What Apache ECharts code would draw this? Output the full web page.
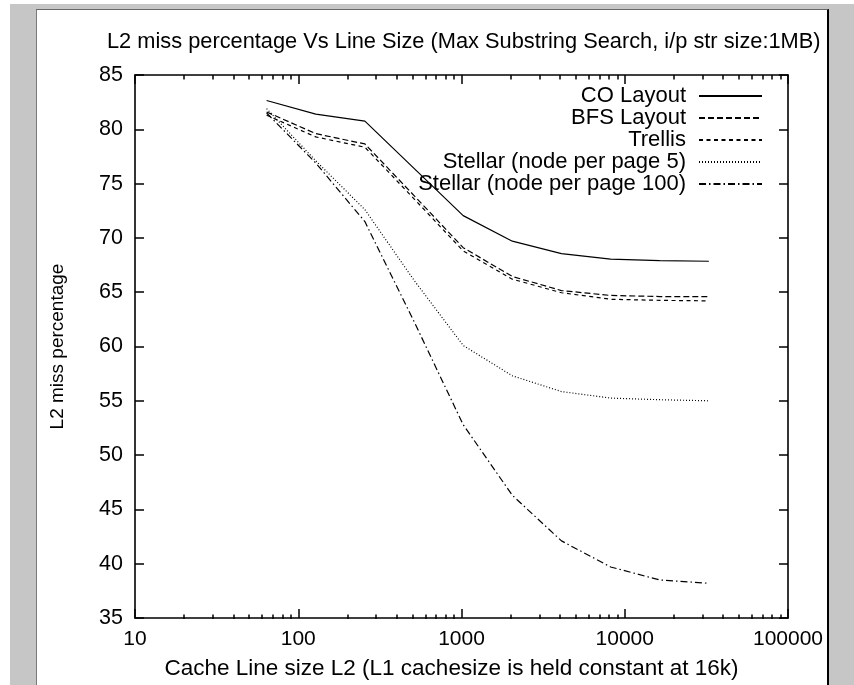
<!DOCTYPE html>
<html>
<head>
<meta charset="utf-8">
<script src="https://cdn.jsdelivr.net/npm/echarts@6/dist/echarts.min.js"></script>
<style>
  html, body { margin: 0; padding: 0; background: #fff; }
  #gray { position: absolute; left: 10px; top: 4px; width: 844px; height: 681px; background: #c6c6c6; }
  #panel { position: absolute; left: 36px; top: 9px; width: 790px; height: 680px; background: #fff;
           border-left: 1px solid #7a7a7a; border-top: 1px solid #666; border-right: 2px solid #000; }
  #chart { position: absolute; left: 0; top: 0; width: 854px; height: 685px; }
</style>
</head>
<body>
<div id="gray"></div>
<div id="panel"></div>
<div id="chart"></div>
<script>
// ---- data ----
const lineSizes = [64, 128, 256, 512, 1024, 2048, 4096, 8192, 16384, 32768];
const coLayout   = [82.65, 81.4, 80.75, 76.4, 72.05, 69.7, 68.55, 68.05, 67.9, 67.85];
const bfsLayout  = [81.6, 79.6, 78.65, 73.9, 69.1, 66.45, 65.15, 64.7, 64.6, 64.6];
const trellis    = [81.3, 79.3, 78.35, 73.6, 68.8, 66.2, 64.95, 64.35, 64.25, 64.2];
const stellar5   = [81.9, 77.1, 72.6, 66.1, 60.1, 57.3, 55.85, 55.25, 55.1, 55.0];
const stellar100 = [81.5, 76.9, 71.5, 62.3, 52.8, 46.3, 42.1, 39.7, 38.5, 38.2];
const seriesNames = ['CO Layout', 'BFS Layout', 'Trellis', 'Stellar (node per page 5)', 'Stellar (node per page 100)'];
const seriesValues = [coLayout, bfsLayout, trellis, stellar5, stellar100];
const xMajorTicks = [10, 100, 1000, 10000, 100000];
const xMinorTicks = [20,30,40,50,60,70,80,90, 200,300,400,500,600,700,800,900,
                     2000,3000,4000,5000,6000,7000,8000,9000, 20000,30000,40000,50000,60000,70000,80000,90000];

// ---- styling ----
const FONT = 'Liberation Sans';
const dashTypes = ['solid', [6, 3], [4, 3.5], [1, 2], [7, 3, 1.5, 3]];
const gridBox = { left: 135, right: 66, top: 75, bottom: 66 };
const legendRowTop = [85, 107, 129, 151, 173];

const chart = echarts.init(document.getElementById('chart'), null, { renderer: 'canvas' });

function logX(extra) {
  return Object.assign({
    type: 'log', logBase: 10, min: 10, max: 100000,
    splitLine: { show: false }, minorTick: { show: false }, minorSplitLine: { show: false }
  }, extra);
}
function valY(extra) {
  return Object.assign({
    type: 'value', min: 35, max: 85, interval: 5,
    splitLine: { show: false }
  }, extra);
}
const axisLine = { show: true, lineStyle: { color: '#000', width: 1.6 } };

const option = {
  backgroundColor: 'transparent',
  animation: false,
  title: {
    text: 'L2 miss percentage Vs Line Size (Max Substring Search, i/p str size:1MB)',
    left: 107, top: 31, padding: 0,
    textStyle: { fontFamily: FONT, fontSize: 21.8, fontWeight: 'normal', color: '#000' }
  },
  legend: seriesNames.map((n, i) => ({
    data: [n], orient: 'horizontal', right: 91, top: legendRowTop[i],
    align: 'right', itemWidth: 63, itemHeight: 10, itemGap: 0, padding: 0,
    selectedMode: false,
    itemStyle: { opacity: 0 },
    textStyle: { fontFamily: FONT, fontSize: 22, color: '#000', padding: [0, 8, 0, 0] }
  })),
  grid: [
    Object.assign({ containLabel: false }, gridBox),
    Object.assign({ containLabel: false }, gridBox)
  ],
  xAxis: [
    logX({
      gridIndex: 0, position: 'bottom', axisLine,
      axisTick: { show: true, inside: true, length: 9, lineStyle: { color: '#000', width: 1.5 }, customValues: xMajorTicks },
      axisLabel: { show: true, customValues: xMajorTicks, color: '#000', fontFamily: FONT, fontSize: 21, margin: 11,
                   formatter: v => String(Math.round(v)) },
      name: 'Cache Line size L2 (L1 cachesize is held constant at 16k)',
      nameLocation: 'middle', nameGap: 39,
      nameTextStyle: { fontFamily: FONT, fontSize: 22.5, color: '#000', padding: [0, 20, 0, 0] }
    }),
    logX({
      gridIndex: 0, position: 'top', axisLine,
      axisTick: { show: true, inside: true, length: 9, lineStyle: { color: '#000', width: 1.5 }, customValues: xMajorTicks },
      axisLabel: { show: false }
    }),
    logX({
      gridIndex: 1, position: 'bottom', axisLine: { show: false },
      axisTick: { show: true, inside: true, length: 4.5, lineStyle: { color: '#000', width: 1.5 }, customValues: xMinorTicks },
      axisLabel: { show: false }
    }),
    logX({
      gridIndex: 1, position: 'top', axisLine: { show: false },
      axisTick: { show: true, inside: true, length: 4.5, lineStyle: { color: '#000', width: 1.5 }, customValues: xMinorTicks },
      axisLabel: { show: false }
    })
  ],
  yAxis: [
    valY({
      gridIndex: 0, position: 'left', axisLine,
      axisTick: { show: true, inside: true, length: 9, lineStyle: { color: '#000', width: 1.5 } },
      axisLabel: { show: true, color: '#000', fontFamily: FONT, fontSize: 21.5, margin: 12 },
      name: 'L2 miss percentage', nameLocation: 'middle', nameGap: 68, nameRotate: 90,
      nameTextStyle: { fontFamily: FONT, fontSize: 19, color: '#000' }
    }),
    valY({
      gridIndex: 0, position: 'right', axisLine,
      axisTick: { show: true, inside: true, length: 9, lineStyle: { color: '#000', width: 1.5 } },
      axisLabel: { show: false }
    }),
    valY({ gridIndex: 1, show: false })
  ],
  series: seriesNames.map((n, i) => ({
    name: n, type: 'line', xAxisIndex: 0, yAxisIndex: 0,
    data: lineSizes.map((x, k) => [x, seriesValues[i][k]]),
    symbol: 'none', smooth: false,
    lineStyle: { color: '#000', width: 1.2, type: dashTypes[i] },
    itemStyle: { color: '#000' }
  }))
};
chart.setOption(option);
</script>
</body>
</html>
